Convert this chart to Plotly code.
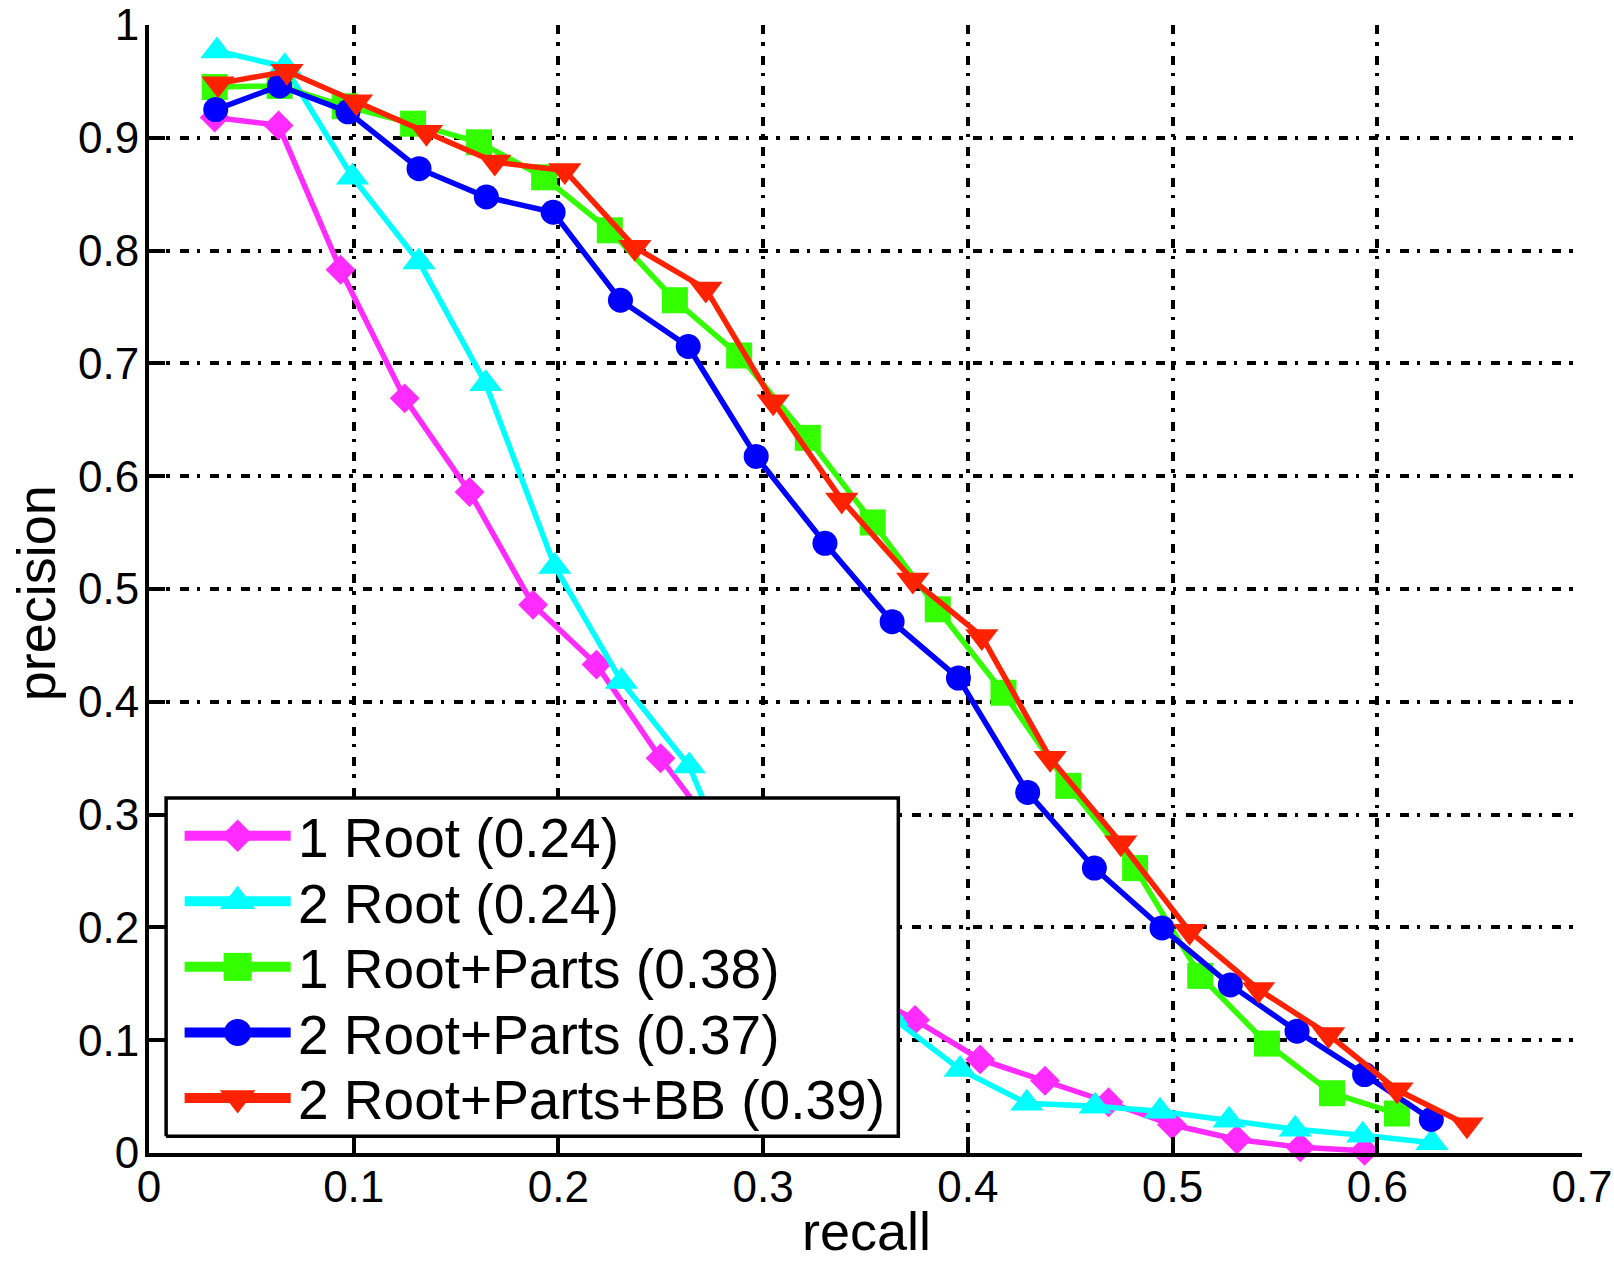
import plotly.graph_objects as go

# Precision/recall points for each detector variant (recall on x, precision on y)
recall_1root = [0.0321, 0.0633, 0.0936, 0.1249, 0.1566, 0.1876, 0.2186, 0.2499, 0.2810,
                0.3125, 0.3438, 0.3742, 0.4060, 0.4377, 0.4687, 0.4997, 0.5314, 0.5624, 0.5938]
precision_1root = [0.918, 0.911, 0.783, 0.669, 0.586, 0.486, 0.433, 0.350, 0.275,
                   0.205, 0.148, 0.118, 0.083, 0.064, 0.045, 0.025, 0.012, 0.005, 0.002]

recall_2root = [0.0332, 0.0663, 0.0994, 0.1319, 0.1645, 0.1982, 0.2308, 0.2639, 0.2970,
                0.3300, 0.3630, 0.3962, 0.4288, 0.4622, 0.4939, 0.5276, 0.5599, 0.5929, 0.6267]
precision_2root = [0.977, 0.963, 0.865, 0.790, 0.682, 0.520, 0.418, 0.343, 0.200,
                   0.155, 0.120, 0.074, 0.044, 0.0415, 0.037, 0.029, 0.021, 0.0157, 0.009]

recall_1root_parts = [0.0321, 0.0638, 0.0956, 0.1290, 0.1612, 0.1930, 0.2251, 0.2569, 0.2883,
                      0.3218, 0.3535, 0.3853, 0.4174, 0.4491, 0.4817, 0.5135, 0.5461, 0.5779, 0.6096]
precision_1root_parts = [0.945, 0.946, 0.928, 0.9125, 0.896, 0.865, 0.818, 0.756, 0.707,
                         0.634, 0.559, 0.482, 0.408, 0.3255, 0.2526, 0.157, 0.097, 0.053, 0.035]

recall_2root_parts = [0.0326, 0.0638, 0.0972, 0.1319, 0.1648, 0.1974, 0.2303, 0.2634, 0.2966,
                      0.3302, 0.3630, 0.3954, 0.4292, 0.4618, 0.4948, 0.5282, 0.5608, 0.5938, 0.6264]
precision_2root_parts = [0.925, 0.946, 0.923, 0.8726, 0.8475, 0.834, 0.756, 0.715, 0.6175,
                         0.5405, 0.471, 0.421, 0.3197, 0.2526, 0.1995, 0.149, 0.108, 0.0695, 0.0297]

recall_2root_parts_bb = [0.0337, 0.0674, 0.1013, 0.1355, 0.1689, 0.2031, 0.2373, 0.2720, 0.3049,
                         0.3384, 0.3731, 0.4068, 0.4402, 0.4747, 0.5083, 0.5420, 0.5762, 0.6096, 0.6438]
precision_2root_parts_bb = [0.948, 0.959, 0.932, 0.905, 0.8785, 0.871, 0.803, 0.766, 0.666,
                            0.579, 0.508, 0.458, 0.350, 0.275, 0.1965, 0.145, 0.105, 0.056, 0.025]

series_labels = ["1 Root (0.24)", "2 Root (0.24)", "1 Root+Parts (0.38)",
                 "2 Root+Parts (0.37)", "2 Root+Parts+BB (0.39)"]

x_ticks = [0, 0.1, 0.2, 0.3, 0.4, 0.5, 0.6, 0.7]
y_ticks = [0, 0.1, 0.2, 0.3, 0.4, 0.5, 0.6, 0.7, 0.8, 0.9, 1]

# ---- styling -------------------------------------------------------------
FONT = "Liberation Sans, Arial, Helvetica, sans-serif"
styles = [
    dict(color="#ff2bff", symbol="diamond", size=23),
    dict(color="#00ffff", symbol="triangle-up", size=29),
    dict(color="#33ff00", symbol="square", size=26),
    dict(color="#0000ff", symbol="circle", size=25),
    dict(color="#ff2200", symbol="triangle-down", size=29),
]
data = [
    (recall_1root, precision_1root),
    (recall_2root, precision_2root),
    (recall_1root_parts, precision_1root_parts),
    (recall_2root_parts, precision_2root_parts),
    (recall_2root_parts_bb, precision_2root_parts_bb),
]

W, H = 1614, 1263
ML, MR, MT, MB = 149.4, 32.4, 24.5, 109.5
PW, PH = W - ML - MR, H - MT - MB


def px_x(px):
    """pixel column -> fraction of plot area width"""
    return (px - ML) / PW


def px_y(py):
    """pixel row -> fraction of plot area height (bottom = 0)"""
    return (H - MB - py) / PH


fig = go.Figure()

for (xs, ys), st, name in zip(data, styles, series_labels):
    fig.add_trace(go.Scatter(
        x=xs, y=ys, mode="lines+markers", name=name,
        line=dict(color=st["color"], width=5.5),
        marker=dict(symbol=st["symbol"], size=st["size"], color=st["color"]),
        cliponaxis=False, showlegend=False,
    ))

# ---- legend box drawn on an overlay subplot spanning the plot area ----------
bx0, bx1 = px_x(166.5), px_x(898.3)
by0, by1 = px_y(1136.7), px_y(798.3)
fig.add_trace(go.Scatter(
    x=[bx0, bx1, bx1, bx0, bx0], y=[by0, by0, by1, by1, by0],
    mode="lines", fill="toself", fillcolor="white",
    line=dict(color="black", width=3.5),
    xaxis="x2", yaxis="y2", showlegend=False, hoverinfo="skip",
))

row_top, row_step = 836.0, 65.6
line_x0, line_x1, mark_x, text_x = px_x(185), px_x(291), px_x(238), px_x(296)
annotations = []
for i, (st, name) in enumerate(zip(styles, series_labels)):
    ry = px_y(row_top + i * row_step)
    fig.add_trace(go.Scatter(
        x=[line_x0, line_x1], y=[ry, ry], mode="lines",
        line=dict(color=st["color"], width=10),
        xaxis="x2", yaxis="y2", showlegend=False, hoverinfo="skip",
    ))
    fig.add_trace(go.Scatter(
        x=[mark_x], y=[ry], mode="markers",
        marker=dict(symbol=st["symbol"], size=st["size"] + 2, color=st["color"]),
        xaxis="x2", yaxis="y2", showlegend=False, hoverinfo="skip",
    ))
    annotations.append(dict(
        text=name, x=text_x, y=px_y(row_top + i * row_step + 2.5),
        xref="paper", yref="paper", xanchor="left", yanchor="middle",
        showarrow=False, font=dict(family=FONT, size=55, color="black"),
    ))

# axis titles
annotations.append(dict(
    text="recall", x=px_x(866), y=px_y(1231.5), xref="paper", yref="paper",
    xanchor="center", yanchor="middle", showarrow=False,
    font=dict(family=FONT, size=54, color="black"),
))
annotations.append(dict(
    text="precision", x=px_x(37.3), y=px_y(593.5), xref="paper", yref="paper",
    xanchor="center", yanchor="middle", textangle=-90, showarrow=False,
    font=dict(family=FONT, size=54, color="black"),
))

grid_dash = "9px,8px,3.5px,10px"
axis_common = dict(
    showline=True, linecolor="black", linewidth=4, mirror=False,
    ticks="inside", ticklen=16, tickwidth=3.5, tickcolor="black",
    showgrid=True, gridcolor="black", gridwidth=3.5, griddash=grid_dash,
    zeroline=False, automargin=False,
    tickfont=dict(family=FONT, size=44, color="black"),
)

fig.update_layout(
    width=W, height=H,
    margin=dict(l=ML, r=MR, t=MT, b=MB, pad=0, autoexpand=False),
    paper_bgcolor="white", plot_bgcolor="white",
    showlegend=False,
    xaxis=dict(range=[0, 0.7], tickvals=x_ticks, ticktext=[f"{v:g}" for v in x_ticks],
               ticklabelstandoff=-8, **axis_common),
    yaxis=dict(range=[0, 1], tickvals=y_ticks, ticktext=[f"{v:g}" for v in y_ticks],
               ticklabelstandoff=-3, **axis_common),
    xaxis2=dict(overlaying="x", range=[0, 1], visible=False, fixedrange=True),
    yaxis2=dict(overlaying="y", range=[0, 1], visible=False, fixedrange=True),
    annotations=annotations,
)

fig.write_html("out.html")
